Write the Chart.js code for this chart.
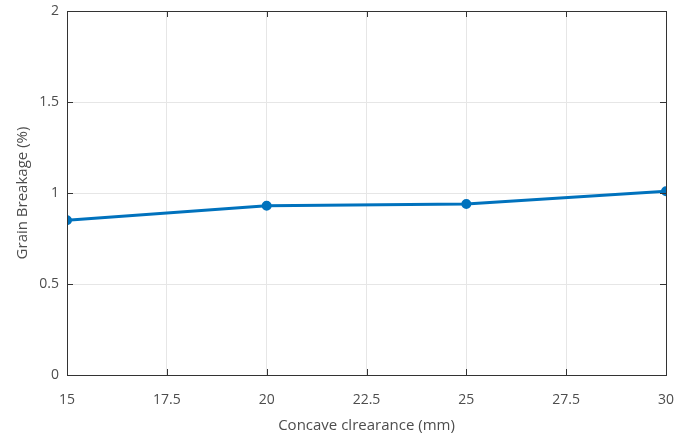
<!DOCTYPE html>
<html>
<head>
<meta charset="utf-8">
<script src="https://cdn.jsdelivr.net/npm/chart.js@4.4.0/dist/chart.umd.min.js"></script>
<style>
  html, body { margin: 0; padding: 0; background: #fff; }
  #wrap { width: 674px; height: 439px; }
</style>
</head>
<body>
<div id="wrap"><canvas id="chart"></canvas></div>
<script>
const clearance = [15, 20, 25, 30];
const breakage = [0.85, 0.93, 0.94, 1.01];
const xTicks = [15, 17.5, 20, 22.5, 25, 27.5, 30];
const yTicks = [0, 0.5, 1, 1.5, 2];

const axisColor = '#333333';
const labelColor = '#4d4d4d';
const fontFamily = '"Open Sans", "Noto Sans", sans-serif';

// MATLAB-like box with inward tick marks
const boxPlugin = {
    id: 'box',
    afterDatasetsDraw(chart) {
        const {ctx, chartArea: a, scales: {x, y}} = chart;
        ctx.save();
        ctx.strokeStyle = axisColor;
        ctx.lineWidth = 1;
        ctx.strokeRect(a.left + 0.5, a.top + 0.5, a.right - a.left, a.bottom - a.top);
        ctx.beginPath();
        xTicks.forEach(v => {
            const px = Math.round(x.getPixelForValue(v)) + 0.5;
            ctx.moveTo(px, a.bottom); ctx.lineTo(px, a.bottom - 6);
            ctx.moveTo(px, a.top); ctx.lineTo(px, a.top + 6);
        });
        yTicks.forEach(v => {
            const py = Math.round(y.getPixelForValue(v)) + 0.5;
            ctx.moveTo(a.left, py); ctx.lineTo(a.left + 6, py);
            ctx.moveTo(a.right, py); ctx.lineTo(a.right - 6, py);
        });
        ctx.stroke();
        ctx.restore();
    }
};

new Chart(document.getElementById('chart'), {
    type: 'line',
    data: {
        datasets: [{
            data: clearance.map((c, i) => ({x: c, y: breakage[i]})),
            borderColor: '#0072BD',
            backgroundColor: '#0072BD',
            borderWidth: 3,
            pointRadius: 3.5,
            pointHoverRadius: 3.5,
            tension: 0
        }]
    },
    options: {
        responsive: true,
        maintainAspectRatio: false,
        animation: false,
        layout: {padding: {top: 11, right: 8, left: 10, bottom: 0}},
        plugins: {legend: {display: false}, tooltip: {enabled: false}},
        scales: {
            x: {
                type: 'linear',
                min: 15,
                max: 30,
                afterBuildTicks: s => { s.ticks = xTicks.map(v => ({value: v})); },
                afterFit: s => { s.height = 64; s.paddingLeft = 0; s.paddingRight = 0; },
                grid: {color: '#e6e6e6', drawTicks: false},
                border: {display: false},
                ticks: {
                    color: labelColor,
                    padding: 17,
                    maxRotation: 0,
                    font: {family: fontFamily, size: 14},
                    callback: v => String(v)
                },
                title: {
                    display: true,
                    text: 'Concave clrearance (mm)',
                    color: labelColor,
                    font: {family: fontFamily, size: 15},
                    padding: {top: 4}
                }
            },
            y: {
                min: 0,
                max: 2,
                afterBuildTicks: s => { s.ticks = yTicks.map(v => ({value: v})); },
                afterFit: s => { s.width = 57; s.paddingTop = 0; s.paddingBottom = 0; },
                grid: {color: '#e6e6e6', drawTicks: false},
                border: {display: false},
                ticks: {
                    color: labelColor,
                    padding: 8,
                    font: {family: fontFamily, size: 14},
                    callback: v => String(v)
                },
                title: {
                    display: true,
                    text: 'Grain Breakage (%)',
                    color: labelColor,
                    font: {family: fontFamily, size: 15},
                    padding: {bottom: 2}
                }
            }
        }
    },
    plugins: [boxPlugin]
});
</script>
</body>
</html>
